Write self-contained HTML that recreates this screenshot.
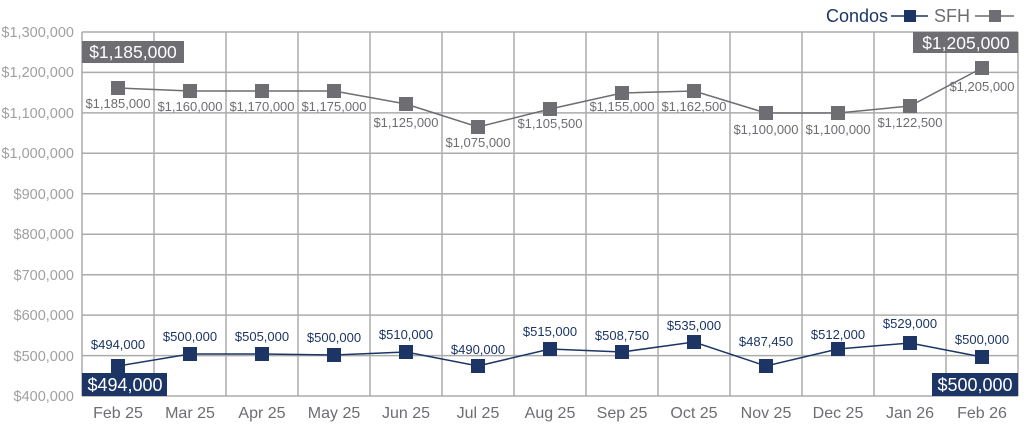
<!DOCTYPE html>
<html><head><meta charset="utf-8"><style>
html,body{margin:0;padding:0;background:#fff;}
svg{display:block;font-family:"Liberation Sans",Arial,sans-serif;}
</style></head><body>
<svg width="1024" height="431" viewBox="0 0 1024 431">
<g stroke="#ababab" stroke-width="1.5" fill="none">
<line x1="82" y1="32" x2="1018" y2="32"/><line x1="82" y1="72.4" x2="1018" y2="72.4"/>
<line x1="82" y1="112.9" x2="1018" y2="112.9"/><line x1="82" y1="153.3" x2="1018" y2="153.3"/>
<line x1="82" y1="193.8" x2="1018" y2="193.8"/><line x1="82" y1="234.2" x2="1018" y2="234.2"/>
<line x1="82" y1="274.7" x2="1018" y2="274.7"/><line x1="82" y1="315.1" x2="1018" y2="315.1"/>
<line x1="82" y1="355.6" x2="1018" y2="355.6"/><line x1="82" y1="396" x2="1018" y2="396"/>
<line x1="82" y1="32" x2="82" y2="396"/><line x1="154" y1="32" x2="154" y2="396"/>
<line x1="226" y1="32" x2="226" y2="396"/><line x1="298" y1="32" x2="298" y2="396"/>
<line x1="370" y1="32" x2="370" y2="396"/><line x1="442" y1="32" x2="442" y2="396"/>
<line x1="514" y1="32" x2="514" y2="396"/><line x1="586" y1="32" x2="586" y2="396"/>
<line x1="658" y1="32" x2="658" y2="396"/><line x1="730" y1="32" x2="730" y2="396"/>
<line x1="802" y1="32" x2="802" y2="396"/><line x1="874" y1="32" x2="874" y2="396"/>
<line x1="946" y1="32" x2="946" y2="396"/><line x1="1018" y1="32" x2="1018" y2="396"/>
</g>
<g fill="#a0a0a0" font-size="14.5" text-anchor="end">
<text x="74" y="37">$1,300,000</text><text x="74" y="77">$1,200,000</text>
<text x="74" y="118">$1,100,000</text><text x="74" y="158">$1,000,000</text>
<text x="74" y="199">$900,000</text><text x="74" y="239">$800,000</text>
<text x="74" y="280">$700,000</text><text x="74" y="320">$600,000</text>
<text x="74" y="361">$500,000</text><text x="74" y="401">$400,000</text>
</g>
<g fill="#6d6d72" font-size="16" text-anchor="middle">
<text x="118" y="418">Feb 25</text><text x="190" y="418">Mar 25</text><text x="262" y="418">Apr 25</text>
<text x="334" y="418">May 25</text><text x="406" y="418">Jun 25</text><text x="478" y="418">Jul 25</text>
<text x="550" y="418">Aug 25</text><text x="622" y="418">Sep 25</text><text x="694" y="418">Oct 25</text>
<text x="766" y="418">Nov 25</text><text x="838" y="418">Dec 25</text><text x="910" y="418">Jan 26</text>
<text x="982" y="418">Feb 26</text>
</g>
<polyline fill="none" stroke="#6d6d72" stroke-width="1.5" points="118,88 190,91 262,91 334,91 406,104 478,127 550,109 622,93 694,91 766,113 838,113 910,106 982,68"/>
<g fill="#6d6d72">
<rect x="111" y="81" width="14" height="14"/><rect x="183" y="84" width="14" height="14"/><rect x="255" y="84" width="14" height="14"/>
<rect x="327" y="84" width="14" height="14"/><rect x="399" y="97" width="14" height="14"/><rect x="471" y="120" width="14" height="14"/>
<rect x="543" y="102" width="14" height="14"/><rect x="615" y="86" width="14" height="14"/><rect x="687" y="84" width="14" height="14"/>
<rect x="759" y="106" width="14" height="14"/><rect x="831" y="106" width="14" height="14"/><rect x="903" y="99" width="14" height="14"/>
<rect x="975" y="61" width="14" height="14"/>
</g>
<g fill="#6d6d72" font-size="13" text-anchor="middle">
<text x="118" y="108">$1,185,000</text><text x="190" y="111">$1,160,000</text><text x="262" y="111">$1,170,000</text>
<text x="334" y="111">$1,175,000</text><text x="406" y="127">$1,125,000</text><text x="478" y="147">$1,075,000</text>
<text x="550" y="128">$1,105,500</text><text x="622" y="111">$1,155,000</text><text x="694" y="111">$1,162,500</text>
<text x="766" y="134">$1,100,000</text><text x="838" y="134">$1,100,000</text><text x="910" y="127">$1,122,500</text>
<text x="982" y="91">$1,205,000</text>
</g>
<polyline fill="none" stroke="#1c3565" stroke-width="1.5" points="118,366 190,354 262,354 334,355 406,352 478,366 550,349 622,352 694,342 766,366 838,349 910,343 982,357"/>
<g fill="#1c3565">
<rect x="111" y="359" width="14" height="14"/><rect x="183" y="347" width="14" height="14"/><rect x="255" y="347" width="14" height="14"/>
<rect x="327" y="348" width="14" height="14"/><rect x="399" y="345" width="14" height="14"/><rect x="471" y="359" width="14" height="14"/>
<rect x="543" y="342" width="14" height="14"/><rect x="615" y="345" width="14" height="14"/><rect x="687" y="335" width="14" height="14"/>
<rect x="759" y="359" width="14" height="14"/><rect x="831" y="342" width="14" height="14"/><rect x="903" y="336" width="14" height="14"/>
<rect x="975" y="350" width="14" height="14"/>
</g>
<g fill="#1c3565" font-size="13" text-anchor="middle">
<text x="118" y="349">$494,000</text><text x="190" y="341">$500,000</text><text x="262" y="341">$505,000</text>
<text x="334" y="342">$500,000</text><text x="406" y="339">$510,000</text><text x="478" y="354">$490,000</text>
<text x="550" y="336">$515,000</text><text x="622" y="340">$508,750</text><text x="694" y="330">$535,000</text>
<text x="766" y="346">$487,450</text><text x="838" y="339">$512,000</text><text x="910" y="328">$529,000</text>
<text x="982" y="344">$500,000</text>
</g>
<rect x="82" y="41" width="102" height="22" fill="#6d6d72"/>
<text x="133" y="58" fill="#fff" font-size="17.5" text-anchor="middle">$1,185,000</text>
<rect x="913" y="32" width="105" height="21" fill="#6d6d72"/>
<text x="966" y="49" fill="#fff" font-size="17.5" text-anchor="middle">$1,205,000</text>
<rect x="82" y="373" width="85" height="23" fill="#1c3565"/>
<text x="125" y="391" fill="#fff" font-size="18" text-anchor="middle">$494,000</text>
<rect x="932" y="373" width="86" height="23" fill="#1c3565"/>
<text x="975" y="391" fill="#fff" font-size="18" text-anchor="middle">$500,000</text>
<text x="888" y="22" fill="#1c3565" font-size="18" text-anchor="end">Condos</text>
<line x1="891" y1="16" x2="928" y2="16" stroke="#1c3565" stroke-width="1.5"/>
<rect x="904" y="10" width="12" height="12" fill="#1c3565"/>
<text x="934" y="22" fill="#6d6d72" font-size="18">SFH</text>
<line x1="975" y1="16" x2="1014" y2="16" stroke="#6d6d72" stroke-width="1.5"/>
<rect x="989" y="10" width="12" height="12" fill="#6d6d72"/>
</svg>
</body></html>
